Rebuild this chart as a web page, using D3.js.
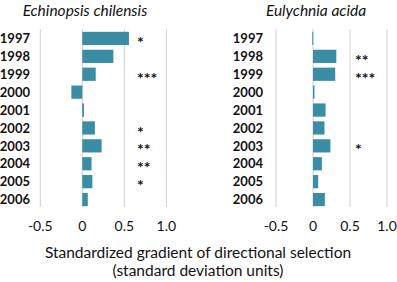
<!DOCTYPE html>
<html><head><meta charset="utf-8">
<script src="https://cdn.jsdelivr.net/npm/d3@7"></script>
<style>body{margin:0;background:#fff}svg{display:block}text{font-family:Lato,"Open Sans",sans-serif;fill:#111}</style>
</head><body>
<svg id="c" width="397" height="282"></svg>
<script>
const years = ["1997","1998","1999","2000","2001","2002","2003","2004","2005","2006"];
const echinopsisValues = [0.555, 0.37, 0.16, -0.13, 0.02, 0.15, 0.23, 0.11, 0.12, 0.065];
const echinopsisStars = ["*", "", "***", "", "", "*", "**", "**", "*", ""];
const eulychniaValues = [-0.01, 0.315, 0.30, 0.02, 0.17, 0.155, 0.235, 0.12, 0.07, 0.16];
const eulychniaStars = ["", "**", "***", "", "", "", "*", "", "", ""];
const ticks = [-0.5, 0, 0.5, 1.0];
const tickLabels = ["-0.5", "0", "0.5", "1.0"];
const titles = ["Echinopsis chilensis", "Eulychnia acida"];

const svg = d3.select("#c");
const y = d3.scaleBand().domain(years).range([29.5, 208.5]).paddingInner(0.26).paddingOuter(0.13);
const color = "#3a8da5";

const panels = [
  {title: titles[0], vals: echinopsisValues, stars: echinopsisStars, range: [40.3, 166.3], labelX: 30, titleX: 85, starX: 137},
  {title: titles[1], vals: eulychniaValues, stars: eulychniaStars, range: [276, 387], labelX: 263, titleX: 316, starX: 355}
];

panels.forEach(p => {
  const x = d3.scaleLinear().domain([-0.5, 1.0]).range(p.range);
  const g = svg.append("g");
  g.append("text").attr("x", p.titleX).attr("y", 16).attr("text-anchor", "middle")
    .style("font-style", "italic").style("font-size", "15.5px").text(p.title);
  g.selectAll("line.grid").data(ticks).join("line").attr("class", "grid")
    .attr("x1", d => x(d)).attr("x2", d => x(d)).attr("y1", 29).attr("y2", 207)
    .attr("stroke", "#cfcfcf").attr("stroke-width", 1);
  g.selectAll("rect").data(p.vals).join("rect")
    .attr("x", d => x(Math.min(0, d))).attr("width", d => Math.max(1, Math.abs(x(d) - x(0))))
    .attr("y", (d, i) => y(years[i])).attr("height", y.bandwidth())
    .attr("fill", color);
  g.selectAll("text.yr").data(years).join("text").attr("class", "yr")
    .attr("x", p.labelX).attr("y", d => y(d) + y.bandwidth() / 2).attr("dy", "0.36em")
    .attr("text-anchor", "end").style("font-size", "13px").style("font-weight", "bold").text(d => d);
  g.selectAll("text.st").data(p.stars).join("text").attr("class", "st")
    .attr("x", p.starX).attr("y", (d, i) => y(years[i]) + y.bandwidth() / 2).attr("dy", "0.6em")
    .style("font-size", "16px").style("font-weight", "bold").text(d => d);
  g.selectAll("text.tk").data(ticks).join("text").attr("class", "tk")
    .attr("x", d => x(d)).attr("y", 231).attr("text-anchor", "middle")
    .style("font-size", "14px").text((d, i) => tickLabels[i]);
});

svg.append("text").attr("x", 198).attr("y", 258).attr("text-anchor", "middle").style("font-size", "15.5px")
  .text("Standardized gradient of directional selection");
svg.append("text").attr("x", 198).attr("y", 276).attr("text-anchor", "middle").style("font-size", "15.5px")
  .text("(standard deviation units)");
</script>
</body></html>
